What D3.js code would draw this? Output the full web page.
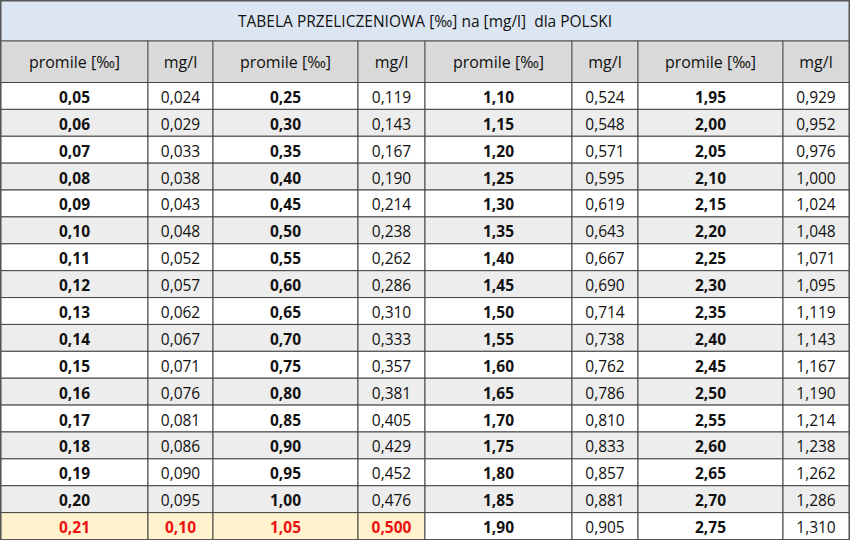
<!DOCTYPE html><html><head><meta charset="utf-8"><script src="https://cdn.jsdelivr.net/npm/d3@7"></script>
<style>body{margin:0;background:#fff}</style></head><body><svg id="c" width="850" height="540"></svg>
<script>
const title = "TABELA PRZELICZENIOWA [‰] na [mg/l]\u00a0 dla POLSKI";
const headers = ["promile [‰]","mg/l","promile [‰]","mg/l","promile [‰]","mg/l","promile [‰]","mg/l"];
const promile1 = ["0,05","0,06","0,07","0,08","0,09","0,10","0,11","0,12","0,13","0,14","0,15","0,16","0,17","0,18","0,19","0,20","0,21"];
const mg1 = ["0,024","0,029","0,033","0,038","0,043","0,048","0,052","0,057","0,062","0,067","0,071","0,076","0,081","0,086","0,090","0,095","0,10"];
const promile2 = ["0,25","0,30","0,35","0,40","0,45","0,50","0,55","0,60","0,65","0,70","0,75","0,80","0,85","0,90","0,95","1,00","1,05"];
const mg2 = ["0,119","0,143","0,167","0,190","0,214","0,238","0,262","0,286","0,310","0,333","0,357","0,381","0,405","0,429","0,452","0,476","0,500"];
const promile3 = ["1,10","1,15","1,20","1,25","1,30","1,35","1,40","1,45","1,50","1,55","1,60","1,65","1,70","1,75","1,80","1,85","1,90"];
const mg3 = ["0,524","0,548","0,571","0,595","0,619","0,643","0,667","0,690","0,714","0,738","0,762","0,786","0,810","0,833","0,857","0,881","0,905"];
const promile4 = ["1,95","2,00","2,05","2,10","2,15","2,20","2,25","2,30","2,35","2,40","2,45","2,50","2,55","2,60","2,65","2,70","2,75"];
const mg4 = ["0,929","0,952","0,976","1,000","1,024","1,048","1,071","1,095","1,119","1,143","1,167","1,190","1,214","1,238","1,262","1,286","1,310"];
const columns = [promile1,mg1,promile2,mg2,promile3,mg3,promile4,mg4];

const colEdges = [1,148,213,358,425,572,638,783,849];
const svg = d3.select("#c");
const font = "'Open Sans', sans-serif";
const fs = 15.5;
const y = d3.scaleBand().domain(d3.range(promile1.length)).range([82.5,539.5]);
const g = svg.append("g");
g.append("rect").attr("x",1).attr("y",1).attr("width",848).attr("height",40).attr("fill","#dce6f2").attr("stroke","#555");
g.append("text").attr("x",425).attr("y",21).attr("text-anchor","middle").attr("dominant-baseline","central")
 .attr("font-family",font).attr("font-size",fs).attr("fill","#111").text(title);
headers.forEach((h,i)=>{
  g.append("rect").attr("x",colEdges[i]).attr("y",41).attr("width",colEdges[i+1]-colEdges[i]).attr("height",41.5)
   .attr("fill","#d9d9d9").attr("stroke","#555");
  g.append("text").attr("x",(colEdges[i]+colEdges[i+1])/2).attr("y",62).attr("text-anchor","middle").attr("dominant-baseline","central")
   .attr("font-family",font).attr("font-size",fs+0.5).attr("fill","#111").text(h);
});
const last = promile1.length-1;
columns.forEach((col,ci)=>{
  col.forEach((v,ri)=>{
    const hl = ri===last && ci<4;
    const fill = hl ? "#fff2cc" : (ri%2 ? "#ededed" : "#ffffff");
    g.append("rect").attr("x",colEdges[ci]).attr("y",y(ri)).attr("width",colEdges[ci+1]-colEdges[ci]).attr("height",y.bandwidth())
     .attr("fill",fill).attr("stroke","#444").attr("stroke-width",1);
    g.append("text").attr("x",(colEdges[ci]+colEdges[ci+1])/2).attr("y",y(ri)+y.bandwidth()/2+1).attr("text-anchor","middle")
     .attr("dominant-baseline","central").attr("font-family",font).attr("font-size",fs)
     .attr("font-weight", (ci%2===0 || hl) ? "bold" : "normal")
     .attr("fill", hl ? "#ee1111" : "#111").text(v);
  });
});
svg.append("rect").attr("x",0.5).attr("y",0.5).attr("width",849).attr("height",539).attr("fill","none").attr("stroke","#555");
</script></body></html>
